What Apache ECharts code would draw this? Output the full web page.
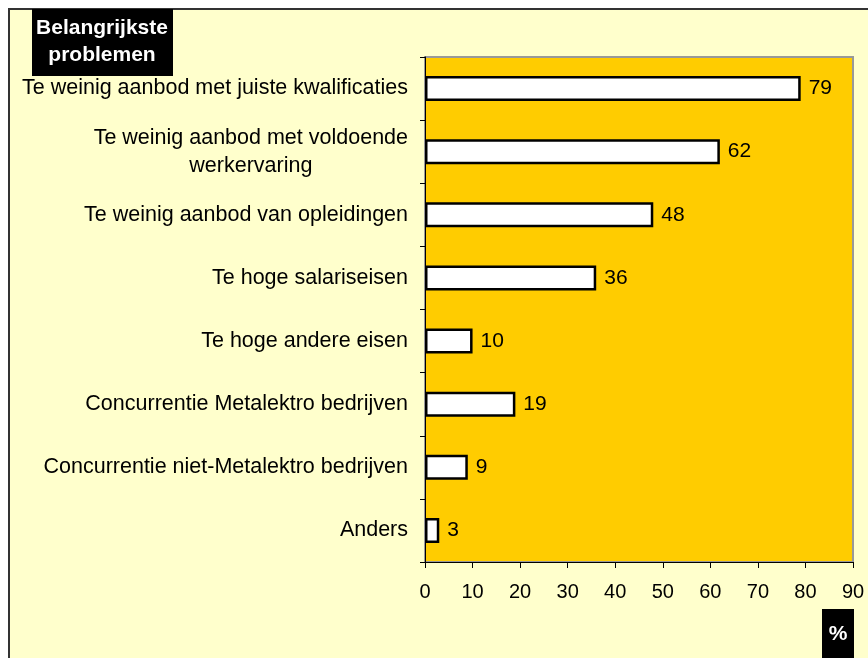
<!DOCTYPE html>
<html>
<head>
<meta charset="utf-8">
<script src="https://cdn.jsdelivr.net/npm/echarts@6/dist/echarts.min.js"></script>
<style>
  html, body { margin: 0; padding: 0; background: #fff; }
  #chart { width: 868px; height: 658px; }
</style>
</head>
<body>
<div id="chart"></div>
<script>
var categories = [
  "Te weinig aanbod met juiste kwalificaties",
  "Te weinig aanbod met voldoende\nwerkervaring",
  "Te weinig aanbod van opleidingen",
  "Te hoge salariseisen",
  "Te hoge andere eisen",
  "Concurrentie Metalektro bedrijven",
  "Concurrentie niet-Metalektro bedrijven",
  "Anders"
];
var values = [79, 62, 48, 36, 10, 19, 9, 3];
var xTicks = { min: 0, max: 90, interval: 10 };

var font = "Arial, 'Liberation Sans', sans-serif";
var myChart = echarts.init(document.getElementById("chart"));

var option = {
  backgroundColor: "#ffffff",
  animation: false,
  textStyle: { fontFamily: font },
  graphic: [
    {
      type: "rect",
      z: -10,
      shape: { x: 9, y: 9, width: 900, height: 700 },
      style: { fill: "#FFFFCC", stroke: "#333333", lineWidth: 2 }
    },
    {
      type: "rect",
      shape: { x: 32, y: 9, width: 141, height: 67 },
      style: { fill: "#000000" }
    },
    {
      type: "text",
      x: 102,
      y: 42,
      style: {
        text: "Belangrijkste\nproblemen",
        fill: "#ffffff",
        font: "bold 21px " + font,
        align: "center",
        verticalAlign: "middle",
        lineHeight: 27
      }
    },
    {
      type: "rect",
      shape: { x: 822, y: 609, width: 32, height: 60 },
      style: { fill: "#000000" }
    },
    {
      type: "text",
      x: 838,
      y: 634,
      style: {
        text: "%",
        fill: "#ffffff",
        font: "bold 21px " + font,
        align: "center",
        verticalAlign: "middle"
      }
    }
  ],
  grid: {
    left: 425,
    right: 15,
    top: 57,
    bottom: 96,
    show: true,
    backgroundColor: "#FFCC00",
    borderColor: "#999999",
    borderWidth: 2
  },
  xAxis: {
    type: "value",
    min: xTicks.min,
    max: xTicks.max,
    interval: xTicks.interval,
    splitLine: { show: false },
    axisLine: { show: true, lineStyle: { color: "#000000", width: 1 } },
    axisTick: { show: true, length: 6, lineStyle: { color: "#000000" } },
    axisLabel: { color: "#000000", fontSize: 20, margin: 20, fontFamily: font }
  },
  yAxis: {
    type: "category",
    inverse: true,
    data: categories,
    axisLine: { show: true, lineStyle: { color: "#000000", width: 1 } },
    axisTick: { show: true, length: 5, lineStyle: { color: "#000000" } },
    axisLabel: {
      color: "#000000",
      fontSize: 21.5,
      margin: 17,
      fontFamily: font,
      formatter: function (v) {
        return v.split("\n").map(function (s) { return "{c|" + s + "}"; }).join("\n");
      },
      rich: {
        c: { align: "center", fontSize: 21.5, lineHeight: 28, color: "#000000", fontFamily: font }
      }
    }
  },
  series: [
    {
      type: "bar",
      data: values,
      barWidth: 25,
      itemStyle: { color: "#ffffff", borderColor: "#000000", borderWidth: 2.5 },
      label: {
        show: true,
        position: "right",
        distance: 8,
        color: "#000000",
        fontSize: 21,
        fontFamily: font
      }
    }
  ]
};
myChart.setOption(option);
</script>
</body>
</html>
